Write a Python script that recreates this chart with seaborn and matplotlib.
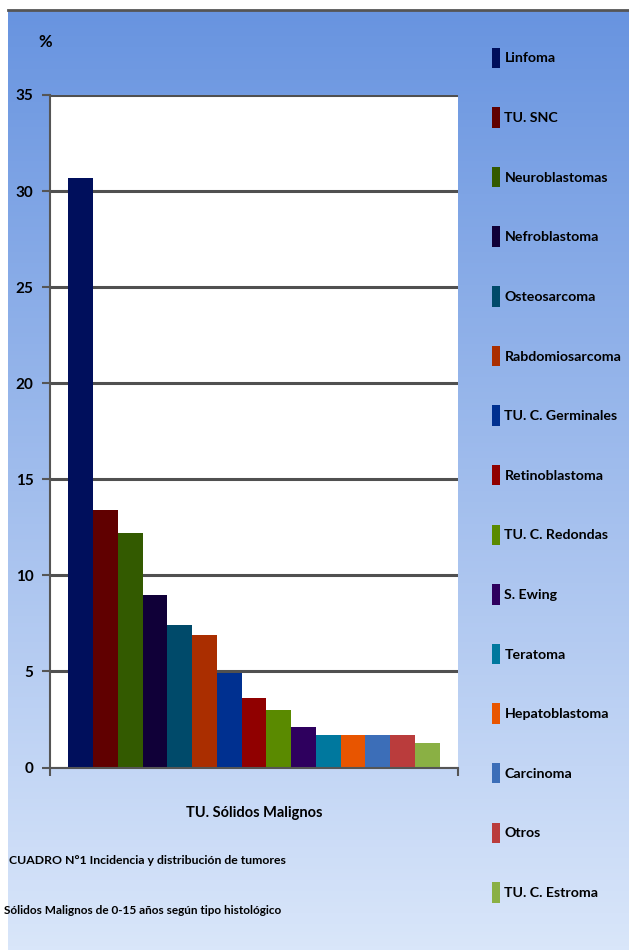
import numpy as np
import pandas as pd
import matplotlib
matplotlib.use("Agg")
import matplotlib.pyplot as plt
import seaborn as sns

# --- data ---
grupo = "TU. Sólidos Malignos"
tipos = [
    "Linfoma", "TU. SNC", "Neuroblastomas", "Nefroblastoma", "Osteosarcoma",
    "Rabdomiosarcoma", "TU. C. Germinales", "Retinoblastoma", "TU. C. Redondas",
    "S. Ewing", "Teratoma", "Hepatoblastoma", "Carcinoma", "Otros", "TU. C. Estroma",
]
porcentajes = [30.7, 13.4, 12.2, 9.0, 7.4, 6.9, 4.9, 3.6, 3.0, 2.1, 1.7, 1.7, 1.7, 1.7, 1.3]
colores = [
    "#000F5C", "#600000", "#335A00", "#100038", "#004A6A",
    "#AA2E00", "#003090", "#900000", "#5A8A00", "#2E005E",
    "#00789E", "#E85500", "#3C6EB8", "#BA3C3C", "#8AB044",
]
y_ticks = [0, 5, 10, 15, 20, 25, 30, 35]
caption = ["CUADRO N°1 Incidencia y distribución de tumores",
           "Sólidos Malignos de 0-15 años según tipo histológico"]

df = pd.DataFrame({"grupo": grupo, "tipo": tipos, "pct": porcentajes})

sns.set_style("white")
plt.rcParams["font.family"] = ["Lato", "DejaVu Sans"]
plt.rcParams["font.weight"] = "bold"
plt.rcParams["text.color"] = "black"
plt.rcParams["xtick.color"] = "black"
plt.rcParams["ytick.color"] = "black"

fig = plt.figure(figsize=(6.29, 9.5), dpi=100)
fig.patch.set_facecolor("white")

# --- gradient background panel ---
bg = fig.add_axes([8 / 629, 0, 621 / 629, 940 / 950])
grad = np.linspace(0, 1, 256).reshape(-1, 1)
cmap = matplotlib.colors.LinearSegmentedColormap.from_list("bg", ["#6894E0", "#D9E6FA"])
bg.imshow(grad, aspect="auto", cmap=cmap, extent=[0, 1, 0, 1], origin="upper")
bg.set_xticks([]); bg.set_yticks([])
for s in ["left", "right", "bottom"]:
    bg.spines[s].set_visible(False)
bg.spines["top"].set_color("#555555")
bg.spines["top"].set_linewidth(2)

# --- main axes ---
ax = fig.add_axes([50 / 629, 1 - 767.5 / 950, 408 / 629, (767.5 - 95) / 950])
ax.set_facecolor("white")
sns.barplot(data=df, x="grupo", y="pct", hue="tipo", hue_order=tipos,
            palette=colores, saturation=1, width=0.91, linewidth=0, ax=ax)

ax.set_xlim(-0.5, 0.5)
ax.set_ylim(0, 35)
ax.set_yticks(y_ticks)
ax.set_yticklabels([str(t) for t in y_ticks], fontsize=11, fontweight="bold")
ax.yaxis.grid(True, color="#505050", linewidth=2.2)
ax.set_axisbelow(True)
ax.tick_params(axis="y", length=6, width=1.5, color="#555555", pad=6, left=True)
ax.tick_params(axis="x", length=0, pad=28, labelsize=10.5)
ax.set_xticks([0])
ax.set_xticklabels([grupo], fontweight="bold")
ax.set_xticks([-0.5, 0.5], minor=True)
ax.tick_params(axis="x", which="minor", length=6, width=1.5, color="#555555", bottom=True)
ax.set_xlabel("")
ax.set_ylabel("")
for s in ["top", "right"]:
    ax.spines[s].set_visible(False)
for s in ["left", "bottom"]:
    ax.spines[s].set_color("#555555")
    ax.spines[s].set_linewidth(1.5)

fig.text(45 / 629, 1 - 42 / 950, "%", ha="center", va="center", fontsize=12, fontweight="bold")

# --- legend on the right ---
leg = ax.legend(loc="upper left", bbox_to_anchor=(486 / 629, 1 - 42 / 950),
                bbox_transform=fig.transFigure, frameon=False, fontsize=10.2,
                handlelength=0.6, handleheight=1.85, handletextpad=0.3,
                labelspacing=2.76, borderaxespad=0)
for h in leg.legend_handles:
    h.set_edgecolor("none")

# --- caption ---
fig.text(147 / 629, 1 - 861 / 950, caption[0], ha="center", va="center", fontsize=8.8, fontweight="bold")
fig.text(143 / 629, 1 - 911 / 950, caption[1], ha="center", va="center", fontsize=8.5, fontweight="bold")

fig.savefig("out.png", dpi=100)
